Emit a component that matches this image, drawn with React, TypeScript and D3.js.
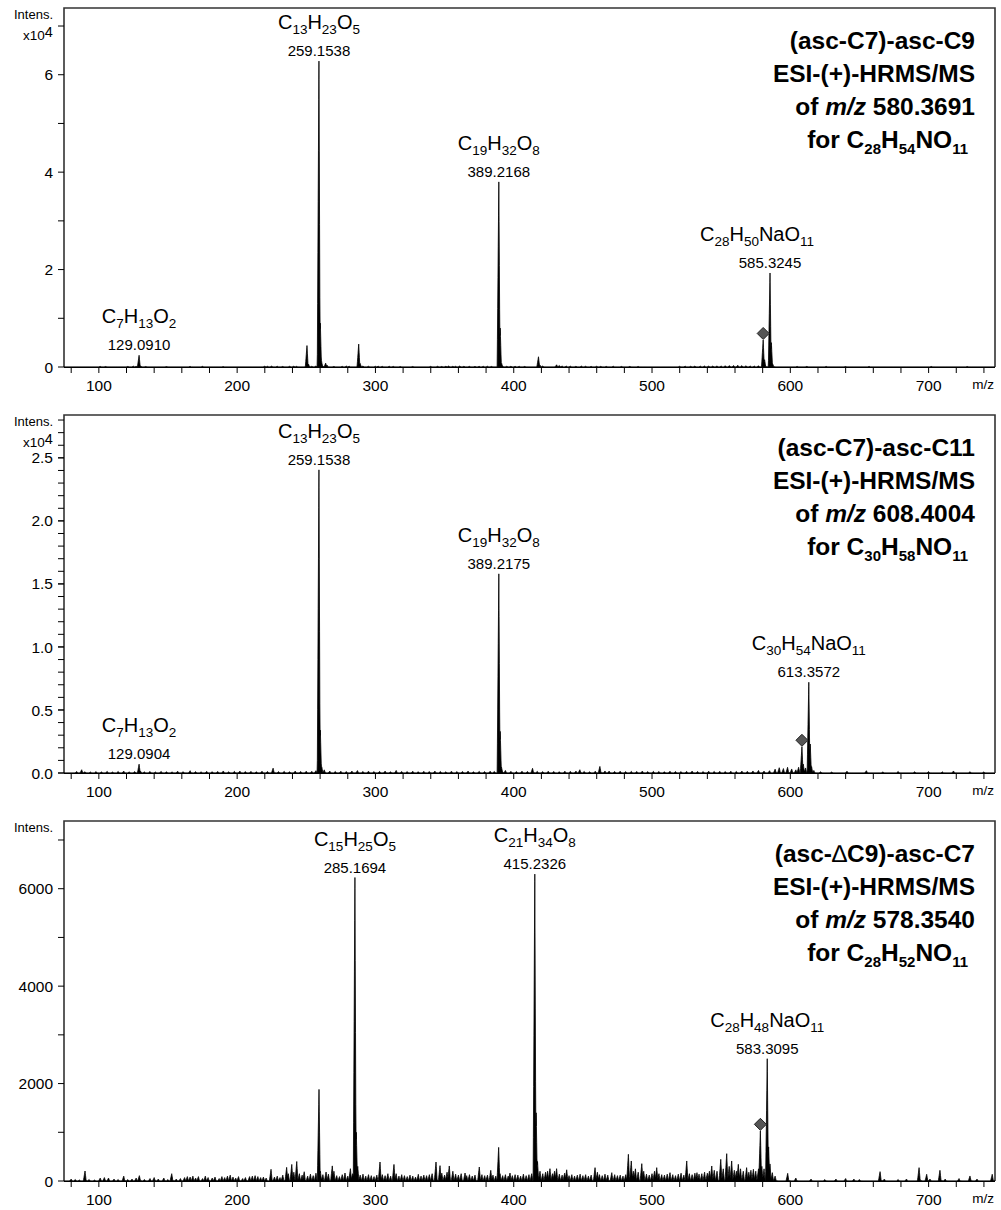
import React from "react";
import * as d3 from "d3";

const W = 1001;
const H = 1210;
const FONT = "'Liberation Sans', Arial, sans-serif";

// shared m/z axis
const mzDomain: [number, number] = [74.8, 748];
const mzLabels = [100, 200, 300, 400, 500, 600, 700];
const mzMinor = d3.range(80, 741, 20);

type Peak = [number, number];
type Ann = { mz: number; formula: string; mass: string; dx?: number };

// ---- (asc-C7)-asc-C9 ----
const c9Peaks: Peak[] = [
  [101, 120], [105, 100], [121, 120], [125, 160], [127, 130], [129.09, 2400], [130.1, 250], [134, 100],
  [149, 90], [166, 120], [175, 130], [190, 80], [220, 160], [222, 140], [225, 180], [229, 150], [233, 120],
  [238, 150], [241, 160], [243, 130], [250.5, 4400], [251.6, 600], [254, 150], [257, 200], [259.15, 62800],
  [260.15, 9000], [261.2, 900], [264, 800], [265, 400], [270, 120], [276, 140], [279, 180], [281, 160],
  [287.9, 4700], [289, 700], [291, 200], [295, 150], [300, 140], [302, 160], [305, 130], [310, 150],
  [313, 120], [318, 100], [327, 110], [340, 130], [345, 150], [348, 120], [351, 160], [353, 200], [356, 150],
  [358, 140], [361, 200], [364, 150], [368, 130], [372, 130], [375, 150], [378, 140], [381, 150], [384, 120],
  [389.22, 38000], [390.22, 8000], [391.2, 800], [395, 150], [398, 160], [401, 150], [404, 140], [408, 120],
  [417.9, 2100], [419, 400], [421, 200], [431, 450], [433, 300], [435, 200], [438, 180], [441, 160],
  [445, 150], [449, 180], [452, 150], [456, 130], [460, 150], [463, 140], [467, 120], [472, 150], [478, 120],
  [484, 130], [490, 110], [520, 140], [524, 160], [528, 150], [531, 180], [535, 160], [538, 200], [541, 180],
  [544, 200], [547, 220], [550, 200], [553, 250], [556, 280], [559, 300], [562, 350], [565, 280], [568, 250],
  [571, 200], [574, 180], [577, 250], [580.37, 5550], [581.4, 1500], [585.32, 19300], [586.3, 5000],
  [587.3, 600], [605, 120], [612, 130], [626, 120], [640, 100], [657, 120], [702, 110], [728, 100],
];
const c9YTicks = [0, 20000, 40000, 60000];
const c9YTickLabels = ["0", "2", "4", "6"];
const c9YMinor = [10000, 30000, 50000, 70000];
const c9Labels: Ann[] = [
  { mz: 129.091, formula: "C7H13O2", mass: "129.0910" },
  { mz: 259.1538, formula: "C13H23O5", mass: "259.1538" },
  { mz: 389.2168, formula: "C19H32O8", mass: "389.2168" },
  { mz: 585.3245, formula: "C28H50NaO11", mass: "585.3245", dx: -13 },
];
const c9Precursor = 580.37;

// ---- (asc-C7)-asc-C11 ----
const c11Peaks: Peak[] = [
  [84, 120], [87.6, 260], [90, 100], [94, 80], [98, 110], [102, 90], [106, 130], [110, 80], [114, 120],
  [118, 150], [122, 90], [126, 110], [129.09, 700], [130.1, 150], [133, 90], [137, 120], [141, 80],
  [145, 130], [149, 100], [153, 90], [157, 140], [161, 100], [166, 180], [170, 110], [174, 90], [178, 130],
  [182, 100], [186, 120], [190, 160], [194, 100], [198, 130], [202, 150], [206, 110], [210, 130], [214, 100],
  [218, 140], [222, 120], [226, 380], [230, 110], [234, 130], [238, 100], [242, 150], [246, 120], [250, 140],
  [254, 130], [257, 180], [259.15, 24050], [260.15, 3400], [261.2, 500], [263, 250], [267, 150], [271, 120],
  [275, 140], [279, 110], [283, 150], [287, 190], [291, 120], [295, 140], [299, 110], [303, 130], [307, 150],
  [311, 100], [315, 200], [319, 120], [323, 110], [327, 140], [331, 100], [335, 130], [339, 110], [343, 150],
  [347, 120], [351, 100], [355, 140], [359, 110], [363, 120], [367, 150], [371, 100], [375, 130], [379, 110],
  [383, 140], [386, 120], [389.22, 15800], [390.22, 3300], [391.2, 450], [394, 200], [398, 130], [402, 110],
  [406, 140], [410, 120], [413.6, 370], [417, 130], [421, 110], [425, 140], [429, 120], [433, 100], [437, 140],
  [441, 130], [445, 150], [447.8, 260], [451, 120], [455, 100], [459, 140], [462.3, 520], [466, 160],
  [469, 150], [473, 120], [477, 140], [481, 110], [485, 130], [489, 120], [493, 150], [497, 110], [501, 130],
  [505, 120], [509, 100], [513, 140], [517, 120], [521, 110], [525, 130], [529, 150], [533, 120], [537, 110],
  [541, 140], [545, 120], [549, 130], [553, 110], [557, 140], [561, 120], [565, 150], [569, 130], [573, 160],
  [577, 200], [581, 150], [585, 180], [589, 300], [592, 420], [595, 350], [598, 450], [601, 320], [604, 250],
  [606, 450], [608.4, 2080], [609.4, 700], [611, 400], [613.36, 7200], [614.4, 2300], [615.4, 500],
  [617, 200], [622, 100], [630, 80], [641, 140], [655, 180], [667, 90], [678, 120], [690, 100], [700, 110],
  [710, 90], [718, 160], [730, 100], [740, 90],
];
const c11YTicks = [0, 5000, 10000, 15000, 20000, 25000];
const c11YTickLabels = ["0.0", "0.5", "1.0", "1.5", "2.0", "2.5"];
const c11YMinor = d3.range(0, 28001, 1000);
const c11Labels: Ann[] = [
  { mz: 129.0904, formula: "C7H13O2", mass: "129.0904" },
  { mz: 259.1538, formula: "C13H23O5", mass: "259.1538" },
  { mz: 389.2175, formula: "C19H32O8", mass: "389.2175" },
  { mz: 613.3572, formula: "C30H54NaO11", mass: "613.3572" },
];
const c11Precursor = 608.4;

// ---- (asc-dC9)-asc-C7 ----
const dc9Peaks: Peak[] = [
  [80, 40], [83, 30], [86, 20], [90, 205], [93, 30], [97, 20], [101, 60], [104, 70], [107, 60], [111, 40],
  [114, 30], [118, 100], [121, 30], [124, 40], [127, 60], [129.3, 110], [133, 30], [137, 50], [140, 70],
  [143, 40], [147, 60], [150, 30], [152.7, 150], [156, 40], [159, 50], [162, 70], [164, 90], [166, 80],
  [168, 100], [170, 60], [172, 90], [175, 50], [177, 100], [179, 70], [182, 60], [184, 80], [187, 50],
  [189, 90], [191, 70], [193, 100], [195, 120], [197, 80], [199, 60], [201, 90], [204, 50], [206, 70],
  [209, 90], [211, 100], [213, 110], [215, 90], [217, 70], [219, 80], [221, 60], [224.5, 240], [227, 80],
  [229, 100], [231, 70], [233, 120], [235.8, 280], [237, 150], [239.5, 340], [241, 180], [243.1, 400],
  [245, 150], [247, 120], [248.5, 190], [251, 100], [253, 140], [255, 110], [257, 160], [259.2, 1880],
  [260.2, 200], [262, 130], [264.3, 185], [266, 140], [268.8, 310], [270, 200], [272, 110], [274, 90],
  [276, 130], [278, 164], [280, 100], [281.9, 253], [283.5, 150], [285.17, 6230], [286.17, 1000],
  [287.2, 300], [289, 120], [291, 140], [293, 100], [295, 130], [297, 110], [299, 90], [301, 120],
  [303.3, 390], [305, 130], [307, 110], [309, 150], [311, 100], [313.4, 340], [315, 150], [317, 100],
  [319, 130], [321, 110], [323, 90], [325, 120], [327, 100], [329, 80], [331, 137], [333, 100], [335, 120],
  [337, 110], [339, 130], [341, 150], [343.8, 390], [346.7, 315], [348, 160], [350, 120], [351.8, 180],
  [353.4, 308], [356, 200], [358, 140], [360, 120], [362, 150], [364.8, 164], [366, 110], [368, 130],
  [370, 100], [372, 120], [375.1, 287], [377, 130], [379, 110], [381, 120], [383.4, 219], [385, 120],
  [387, 100], [389.1, 690], [390.1, 150], [392, 110], [394, 130], [396, 100], [397.3, 164], [399, 110],
  [401, 130], [403, 120], [405, 100], [407, 140], [409, 110], [411, 130], [413, 150], [415.23, 6300],
  [416.23, 1400], [417.2, 400], [419, 200], [421, 150], [423, 180], [424.5, 200], [426.2, 253], [428, 150],
  [429.5, 200], [431, 253], [433, 140], [435, 120], [436.8, 160], [438.3, 230], [440, 110], [442, 130],
  [444, 100], [446, 120], [448, 140], [450, 110], [452, 130], [454, 100], [456, 120], [458.8, 274],
  [460.5, 180], [462, 130], [464, 110], [466, 140], [468, 120], [470.9, 171], [473, 130], [475, 110],
  [477, 120], [479, 100], [481, 130], [482.9, 548], [485, 411], [486.5, 200], [488, 250], [490, 180],
  [492.6, 356], [494, 200], [496, 140], [498, 120], [500, 150], [501.8, 200], [503.4, 274], [505, 150],
  [507, 130], [509, 120], [511, 140], [513, 171], [515, 130], [517, 110], [519, 140], [521, 160], [523, 120],
  [525.1, 411], [527, 150], [529, 130], [531, 160], [532.5, 171], [534, 140], [536, 150], [538, 180],
  [540, 160], [541.5, 200], [543.2, 308], [545, 220], [547, 200], [549.7, 445], [551.5, 250], [554, 561],
  [555.8, 300], [557.6, 411], [559.5, 220], [561, 200], [562.4, 342], [564, 250], [566, 200], [568.4, 274],
  [570, 180], [571.5, 220], [573.3, 240], [575, 200], [577, 250], [578.35, 1030], [579.4, 300], [581, 250],
  [583.31, 2510], [584.3, 700], [585.3, 350], [587, 171], [589, 100], [598.1, 157], [604, 60], [615, 40],
  [625, 30], [633, 40], [640, 50], [646, 40], [650, 30], [664.9, 192], [668, 40], [678, 30], [684, 40],
  [693.1, 274], [698.6, 137], [701, 40], [708.2, 219], [712, 40], [722, 50], [729.9, 103], [735, 40],
  [746, 137],
];
const dc9YTicks = [0, 2000, 4000, 6000];
const dc9YTickLabels = ["0", "2000", "4000", "6000"];
const dc9YMinor = [1000, 3000, 5000, 7000];
const dc9Labels: Ann[] = [
  { mz: 285.1694, formula: "C15H25O5", mass: "285.1694" },
  { mz: 415.2326, formula: "C21H34O8", mass: "415.2326" },
  { mz: 583.3095, formula: "C28H48NaO11", mass: "583.3095" },
];
const dc9Precursor = 578.35;

// peak shape used to turn sticks into a profile trace
function kernel(d: number) {
  if (d < -1.2 || d > 2.6) return 0;
  if (d <= 0) return 1 + d / 1.2;
  if (d <= 0.8) return 1 - (0.95 * d) / 0.8;
  return 0.05 * (1 - (d - 0.8) / 1.8);
}

function profile(peaks: Peak[]): Peak[] {
  const grid = d3
    .range(mzDomain[0], mzDomain[1], 0.2)
    .concat(peaks.map((p) => p[0]))
    .sort(d3.ascending);
  return grid.map((g) => [g, d3.max(peaks, ([m, v]) => v * kernel(g - m)) ?? 0]);
}

function chem(text: string) {
  return Array.from(text.matchAll(/([A-Z][a-z]?)(\d*)/g)) as RegExpMatchArray[];
}

function Formula({ x, y, text, size, sub, shift, anchor }: any) {
  const spans: any[] = [];
  let down = false;
  chem(text).forEach((p, i) => {
    spans.push(
      <tspan key={"e" + i} fontSize={size} dy={down ? -shift : 0}>
        {p[1]}
      </tspan>
    );
    down = false;
    if (p[2]) {
      spans.push(
        <tspan key={"n" + i} fontSize={sub} dy={shift}>
          {p[2]}
        </tspan>
      );
      down = true;
    }
  });
  return (
    <text x={x} y={y} textAnchor={anchor || "middle"}>
      {spans}
    </text>
  );
}

function Panel(props: {
  top: number;
  bottom: number;
  peaks: Peak[];
  yMax: number;
  yTicks: number[];
  yTickLabels: string[];
  yMinor: number[];
  exp: boolean;
  name: string;
  precMz: string;
  precFormula: string;
  precursor: number;
  labels: Ann[];
}) {
  const { top, bottom, peaks, yMax } = props;
  const left = 64;
  const right = 995;
  const x = d3.scaleLinear().domain(mzDomain).range([left, right]);
  const y = d3.scaleLinear().domain([0, yMax]).range([bottom, top]);

  const area = d3
    .area<Peak>()
    .x((d) => x(d[0]))
    .y0(y(0))
    .y1((d) => y(d[1]));
  const trace = profile(peaks);

  const nearest = (mz: number) =>
    peaks.reduce((a, b) => (Math.abs(b[0] - mz) < Math.abs(a[0] - mz) ? b : a));
  const prec = nearest(props.precursor);
  const px = x(prec[0]);
  const py = y(prec[1]) - 6.5;

  // title name, the delta drawn thin like the original
  const nameParts = props.name.split("∆");

  const tx = 975;
  return (
    <g fontFamily={FONT}>
      {/* frame */}
      <path d={`M${left},${bottom} V${top} H${right} V${bottom}`} fill="none" stroke="#333" strokeWidth={1.6} />
      <line x1={left} x2={right} y1={bottom + 0.5} y2={bottom + 0.5} stroke="#000" strokeWidth={1.2} />

      {/* y axis */}
      {props.yMinor.map((v) => (
        <line key={"ym" + v} x1={left - 6} x2={left} y1={y(v)} y2={y(v)} stroke="#000" strokeWidth={1} />
      ))}
      {props.yTicks.map((v, i) => (
        <g key={"yt" + v}>
          <line x1={left - 6} x2={left} y1={y(v)} y2={y(v)} stroke="#000" strokeWidth={1} />
          <text x={left - 11} y={y(v)} dy="0.36em" textAnchor="end" fontSize={15.5}>
            {props.yTickLabels[i]}
          </text>
        </g>
      ))}
      <text x={53} y={top + 11} textAnchor="end" fontSize={13}>
        Intens.
      </text>
      {props.exp && (
        <text x={23} y={top + 32} fontSize={13.5}>
          x10
          <tspan fontSize={14.5} dy={-3}>
            4
          </tspan>
        </text>
      )}

      {/* x axis */}
      {mzMinor.map((v) => (
        <line key={"xm" + v} x1={x(v)} x2={x(v)} y1={bottom} y2={bottom + 6} stroke="#000" strokeWidth={1} />
      ))}
      {mzLabels.map((v) => (
        <text key={"xl" + v} x={x(v)} y={bottom + 24} textAnchor="middle" fontSize={15.5}>
          {v}
        </text>
      ))}
      <text x={994} y={bottom + 22} textAnchor="end" fontSize={13.5}>
        m/z
      </text>

      {/* spectrum */}
      <path d={area(trace) || ""} fill="#000" stroke="#000" strokeWidth={0.8} strokeLinejoin="round" />

      {/* precursor marker */}
      <path
        d={`M${px},${py - 6} L${px + 6},${py} L${px},${py + 6} L${px - 6},${py} Z`}
        fill="#555"
        stroke="#222"
        strokeWidth={1}
      />

      {/* peak annotations */}
      {props.labels.map((a) => {
        const pk = nearest(a.mz);
        const lx = x(pk[0]);
        const ly = y(pk[1]) - 5;
        return (
          <g key={a.mass}>
            <text x={lx} y={ly} textAnchor="middle" fontSize={15}>
              {a.mass}
            </text>
            <Formula x={lx + (a.dx || 0)} y={ly - 27} text={a.formula} size={20} sub={13.5} shift={5} />
          </g>
        );
      })}

      {/* title */}
      <g fontWeight="bold" fontSize={24.5} textAnchor="end">
        <text x={tx} y={top + 41}>
          {nameParts.length > 1 ? (
            <>
              {nameParts[0]}
              <tspan fontWeight="normal">∆</tspan>
              {nameParts[1]}
            </>
          ) : (
            props.name
          )}
        </text>
        <text x={tx} y={top + 74}>
          ESI-(+)-HRMS/MS
        </text>
        <text x={tx} y={top + 107}>
          of <tspan fontStyle="italic">m/z</tspan> {props.precMz}
        </text>
        <text x={968} y={top + 140}>
          <tspan>for </tspan>
          {chem(props.precFormula).flatMap((p, i, arr) => {
            const out = [
              <tspan key={"e" + i} dy={i > 0 && arr[i - 1][2] ? -6 : 0}>
                {p[1]}
              </tspan>,
            ];
            if (p[2])
              out.push(
                <tspan key={"n" + i} fontSize={15} dy={6}>
                  {p[2]}
                </tspan>
              );
            return out;
          })}
        </text>
      </g>
    </g>
  );
}

export default function App() {
  return (
    <svg
      width={W}
      height={H}
      viewBox={`0 0 ${W} ${H}`}
      style={{ position: "absolute", left: 0, top: 0, background: "#fff" }}
    >
      <rect width={W} height={H} fill="#fff" />
      <Panel
        top={8}
        bottom={367}
        peaks={c9Peaks}
        yMax={73700}
        yTicks={c9YTicks}
        yTickLabels={c9YTickLabels}
        yMinor={c9YMinor}
        exp={true}
        name="(asc-C7)-asc-C9"
        precMz="580.3691"
        precFormula="C28H54NO11"
        precursor={c9Precursor}
        labels={c9Labels}
      />
      <Panel
        top={415}
        bottom={773}
        peaks={c11Peaks}
        yMax={28400}
        yTicks={c11YTicks}
        yTickLabels={c11YTickLabels}
        yMinor={c11YMinor}
        exp={true}
        name="(asc-C7)-asc-C11"
        precMz="608.4004"
        precFormula="C30H58NO11"
        precursor={c11Precursor}
        labels={c11Labels}
      />
      <Panel
        top={821}
        bottom={1181}
        peaks={dc9Peaks}
        yMax={7390}
        yTicks={dc9YTicks}
        yTickLabels={dc9YTickLabels}
        yMinor={dc9YMinor}
        exp={false}
        name="(asc-∆C9)-asc-C7"
        precMz="578.3540"
        precFormula="C28H52NO11"
        precursor={dc9Precursor}
        labels={dc9Labels}
      />
    </svg>
  );
}
